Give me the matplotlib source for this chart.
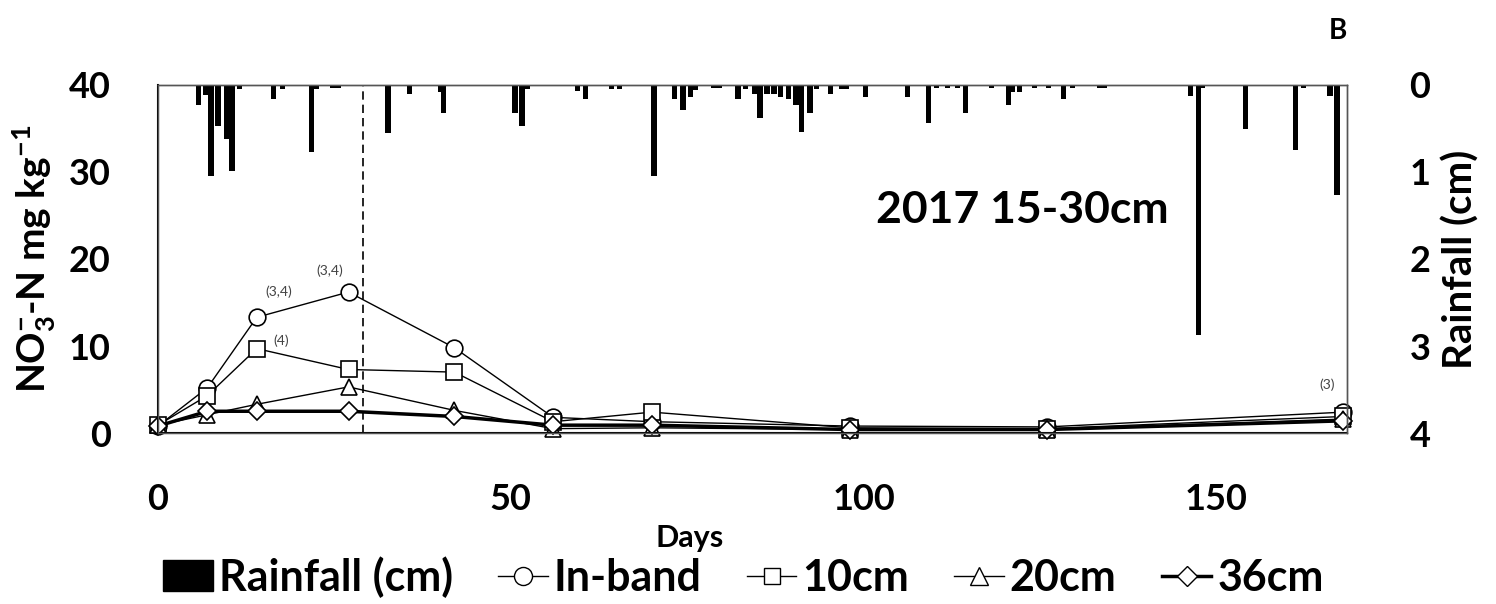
import numpy as np
import matplotlib
matplotlib.use("Agg")
import matplotlib.pyplot as plt
import matplotlib.patches as mpatches
from matplotlib.lines import Line2D

plt.rcParams['font.family'] = ['Lato', 'DejaVu Sans']
plt.rcParams['font.weight'] = 'bold'
plt.rcParams['axes.labelweight'] = 'bold'
plt.rcParams['mathtext.fontset'] = 'custom'
plt.rcParams['mathtext.rm'] = 'Lato:bold'
plt.rcParams['mathtext.default'] = 'rm'

# sampling days and NO3-N (mg/kg)
days = [0, 7, 14, 27, 42, 56, 70, 98, 126, 168]
inband = [0.8, 5.2, 13.3, 16.2, 9.8, 1.8, 1.3, 0.8, 0.7, 2.4]
cm10 = [0.9, 4.3, 9.7, 7.3, 7.0, 1.3, 2.4, 0.6, 0.5, 1.9]
cm20 = [0.9, 2.1, 3.3, 5.3, 2.6, 0.5, 0.6, 0.4, 0.4, 1.6]
cm36 = [0.8, 2.5, 2.5, 2.5, 1.9, 0.9, 0.9, 0.4, 0.4, 1.4]

# daily rainfall (cm)
rain_day = [5.7, 6.8, 7.5, 8.5, 9.8, 10.5, 11.6, 16.4, 17.6, 21.8, 22.5, 24.8, 25.5,
            32.6, 35.6, 40.0, 40.5, 50.6, 51.6, 52.3, 59.5, 60.6, 64.3, 65.4,
            70.3, 73.2, 74.4, 75.5, 76.2, 78.8, 79.6, 82.2, 83.3, 84.6, 85.3,
            86.3, 87.3, 88.2, 89.4, 90.4, 91.2, 92.4, 93.3, 95.3, 96.9, 97.5,
            100.3, 106.2, 109.2, 110.3, 111.9, 113.3, 114.4, 118.1, 120.5, 121.1,
            122.1, 124.2, 126.2, 128.3, 129.6, 133.4, 134.1, 146.3, 147.5, 148.0,
            154.1, 161.2, 162.3, 166.1, 167.1]
rain_cm = [0.23, 0.11, 1.05, 0.47, 0.62, 0.99, 0.05, 0.16, 0.05, 0.77, 0.05, 0.04, 0.04,
           0.55, 0.10, 0.08, 0.32, 0.32, 0.47, 0.05, 0.07, 0.16, 0.05, 0.05,
           1.05, 0.16, 0.29, 0.14, 0.06, 0.04, 0.04, 0.16, 0.05, 0.10, 0.38,
           0.10, 0.10, 0.14, 0.16, 0.23, 0.54, 0.32, 0.05, 0.10, 0.05, 0.05,
           0.14, 0.14, 0.44, 0.04, 0.04, 0.04, 0.32, 0.04, 0.23, 0.08,
           0.08, 0.04, 0.04, 0.16, 0.04, 0.03, 0.03, 0.13, 2.87, 0.04,
           0.51, 0.75, 0.04, 0.13, 1.26]

fert_day = 29

fig = plt.figure(figsize=(14.96, 6.04), dpi=100)
ax = fig.add_axes([0.1056, 0.2831, 0.7948, 0.5762])
ax2 = ax.twinx()

ax2.bar(rain_day, rain_cm, width=0.75, color='black', bottom=0)
ax2.set_ylim(4, 0)
ax2.set_yticks(range(0, 5))

ax.plot(days, inband, '-o', color='black', lw=1, ms=12, mfc='white', mec='black', mew=1.2, clip_on=False)
ax.plot(days, cm10, '-s', color='black', lw=1, ms=12, mfc='white', mec='black', mew=1.2, clip_on=False)
ax.plot(days, cm20, '-^', color='black', lw=1, ms=12, mfc='white', mec='black', mew=1.2, clip_on=False)
ax.plot(days, cm36, '-D', color='black', lw=2.5, ms=9, mfc='white', mec='black', mew=1.2, clip_on=False)
ax.axvline(fert_day, color='black', lw=1.2, ls=(0, (5, 3)))

ax.set_xlim(0, 168.5)
ax.set_ylim(0, 40)
ax.set_xticks([0, 50, 100, 150])
ax.set_yticks(range(0, 41, 10))
ax.tick_params(axis='both', length=0, labelsize=26, pad=34)
ax2.tick_params(axis='y', length=0, labelsize=26, pad=45)
ax.tick_params(axis='x', pad=36)
ax.set_ylabel("NO$_3^{-}$-N mg kg$^{-1}$", fontsize=28, fontweight='bold', labelpad=8)
ax2.set_ylabel("Rainfall (cm)", fontsize=29, fontweight='bold', labelpad=8)

for s in ['left', 'bottom']:
    ax.spines[s].set_linewidth(1.5)
for s in ['top', 'right']:
    ax.spines[s].set_linewidth(1)
    ax.spines[s].set_color('#555555')
for s in ax2.spines.values():
    s.set_linewidth(1)
    s.set_color('#555555')

# significance notes
note = dict(fontsize=10, fontweight='normal', color='#444444', ha='center', va='center')
ax.text(17.1, 16.2, "(3,4)", **note)
ax.text(24.4, 18.6, "(3,4)", **note)
ax.text(17.4, 10.6, "(4)", **note)
ax.text(165.7, 5.5, "(3)", **note)

ax.text(122.5, 25.6, "2017 15-30cm", fontsize=32, ha='center', va='center')

fig.text(0.461, 0.109, "Days", fontsize=22, ha='center', va='center')
fig.text(0.894, 0.948, "B", fontsize=20, ha='center', va='center')

handles = [mpatches.Patch(color='black', label='Rainfall (cm)'),
           Line2D([], [], color='black', lw=1, marker='o', ms=13, mfc='white', label='In-band'),
           Line2D([], [], color='black', lw=1, marker='s', ms=12, mfc='white', label='10cm'),
           Line2D([], [], color='black', lw=1, marker='^', ms=13, mfc='white', label='20cm'),
           Line2D([], [], color='black', lw=2.5, marker='D', ms=10, mfc='white', label='36cm')]
fig.legend(handles=handles, loc='center', bbox_to_anchor=(0.497, 0.045), ncol=5,
           frameon=False, fontsize=31, handlelength=1.15, handletextpad=0.14,
           columnspacing=1.05, borderpad=0.1)

fig.savefig("out.png", dpi=100)
